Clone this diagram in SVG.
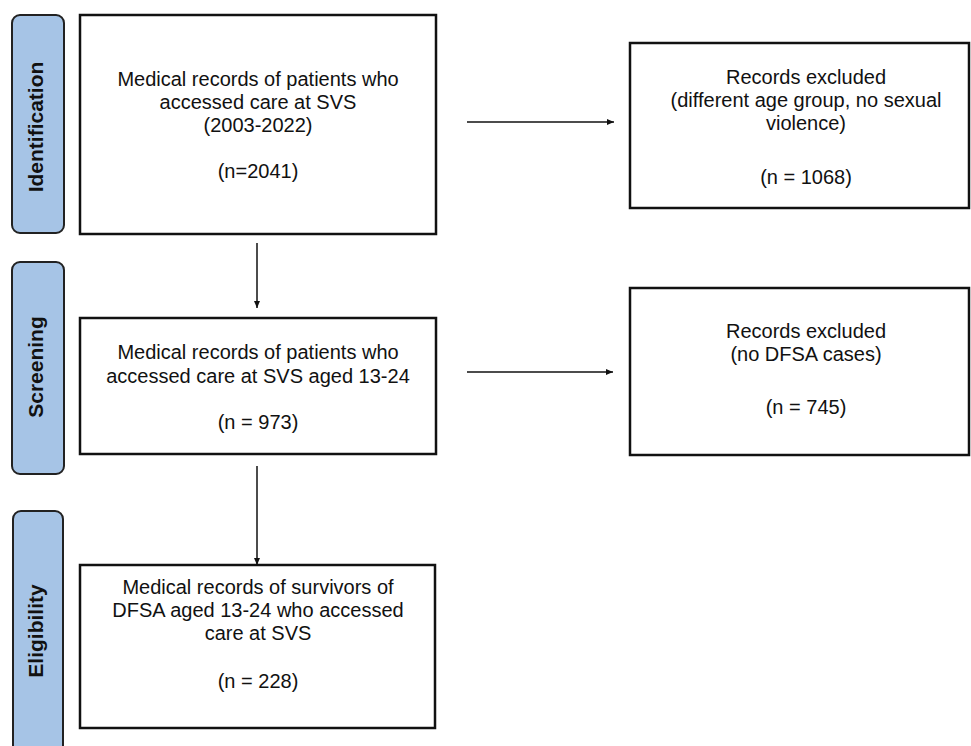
<svg xmlns="http://www.w3.org/2000/svg" width="971" height="746" viewBox="0 0 971 746">
<style>
  .phase { fill: #a6c4e6; stroke: #222; stroke-width: 2; }
  .box { fill: #fff; stroke: #111; stroke-width: 2.5; }
  .txt { font-family: "Liberation Sans", Arial, sans-serif; font-size: 20px; fill: #111; text-anchor: middle; }
  .ptxt { font-family: "Liberation Sans", Arial, sans-serif; font-size: 21px; font-weight: bold; fill: #111; text-anchor: middle; }
  .conn { stroke: #111; stroke-width: 1.5; fill: none; marker-end: url(#arr); }
</style>
<defs>
  <marker id="arr" markerUnits="userSpaceOnUse" markerWidth="8" markerHeight="8" refX="7" refY="4" orient="auto">
    <path d="M0,1 L7,4 L0,7 Z" fill="#111"/>
  </marker>
</defs>
<rect width="971" height="746" fill="#fff"/>

<g id="phase-identification">
  <rect class="phase" x="12" y="15" width="52" height="218" rx="8"/>
  <text class="ptxt" transform="translate(43,127) rotate(-90)">Identification</text>
</g>
<g id="phase-screening">
  <rect class="phase" x="12" y="262" width="52" height="212" rx="8"/>
  <text class="ptxt" transform="translate(43,367) rotate(-90)">Screening</text>
</g>
<g id="phase-eligibility">
  <rect class="phase" x="13" y="511" width="50" height="260" rx="8"/>
  <text class="ptxt" transform="translate(43,631) rotate(-90)">Eligibility</text>
</g>

<g id="node-identified">
  <rect class="box" x="80" y="15" width="356" height="219"/>
  <text class="txt" x="258" y="86">Medical records of patients who</text>
  <text class="txt" x="258" y="109">accessed care at SVS</text>
  <text class="txt" x="258" y="132">(2003-2022)</text>
  <text class="txt" x="258" y="178">(n=2041)</text>
</g>
<g id="node-excluded1">
  <rect class="box" x="630" y="43" width="339" height="165"/>
  <text class="txt" x="806" y="84">Records excluded</text>
  <text class="txt" x="806" y="107">(different age group, no sexual</text>
  <text class="txt" x="806" y="130">violence)</text>
  <text class="txt" x="806" y="184">(n = 1068)</text>
</g>
<g id="node-screened">
  <rect class="box" x="80" y="318" width="356" height="136"/>
  <text class="txt" x="258" y="359">Medical records of patients who</text>
  <text class="txt" x="258" y="383">accessed care at SVS aged 13-24</text>
  <text class="txt" x="258" y="429">(n = 973)</text>
</g>
<g id="node-excluded2">
  <rect class="box" x="630" y="288" width="339" height="167"/>
  <text class="txt" x="806" y="338">Records excluded</text>
  <text class="txt" x="806" y="361">(no DFSA cases)</text>
  <text class="txt" x="806" y="414">(n = 745)</text>
</g>
<g id="node-eligible">
  <rect class="box" x="80" y="565" width="355" height="163"/>
  <text class="txt" x="258" y="594">Medical records of survivors of</text>
  <text class="txt" x="258" y="617">DFSA aged 13-24 who accessed</text>
  <text class="txt" x="258" y="640">care at SVS</text>
  <text class="txt" x="258" y="688">(n = 228)</text>
</g>

<g id="connectors">
  <line class="conn" x1="467" y1="122" x2="614" y2="122"/>
  <line class="conn" x1="467" y1="372" x2="613" y2="372"/>
  <line class="conn" x1="257" y1="243" x2="257" y2="308"/>
  <line class="conn" x1="257" y1="466" x2="257" y2="565"/>
</g>
</svg>
